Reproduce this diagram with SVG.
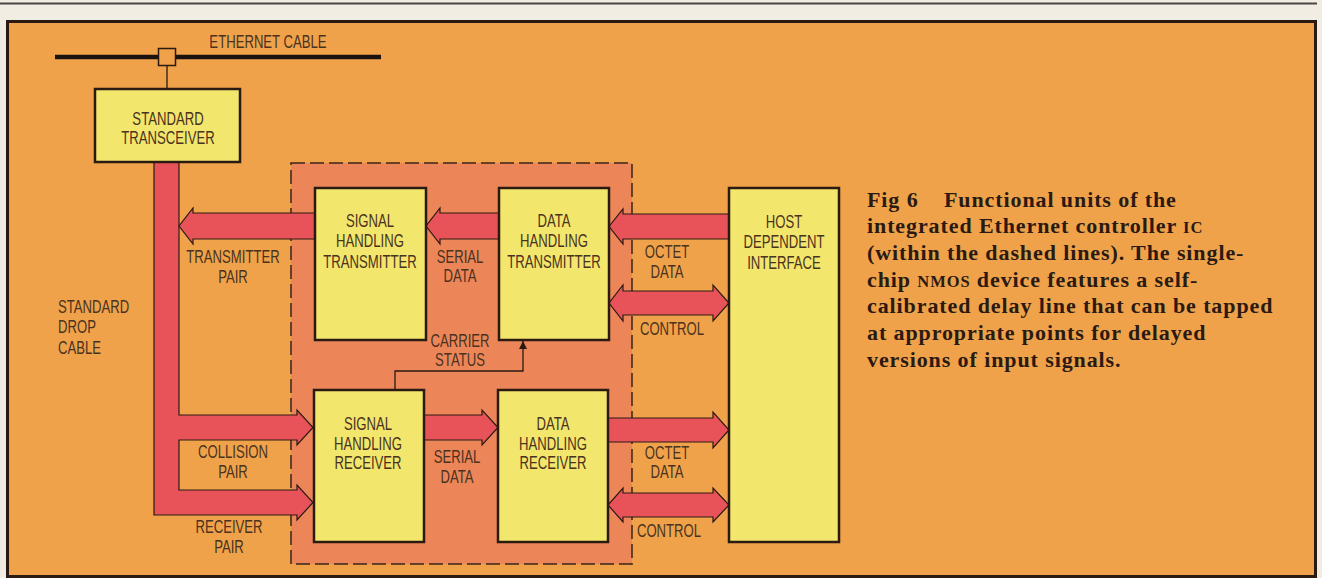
<svg xmlns="http://www.w3.org/2000/svg" width="1322" height="578" viewBox="0 0 1322 578">
<style>
.lbl{font-family:"Liberation Sans",Arial,sans-serif;font-size:18px;fill:#4a3220;text-anchor:middle}
.lft{text-anchor:start}
.box{fill:#f3e66c;stroke:#2a1a12;stroke-width:2.5}
.band{fill:#e8535a;stroke:#2a1a12;stroke-width:1.2;stroke-linejoin:miter}
.cap{font-family:"Liberation Serif","Times New Roman",serif;font-weight:bold;font-size:22px;letter-spacing:0.9px;fill:#2a1a12}
.sc{font-size:16.5px}
</style>
<defs>
<marker id="ah" viewBox="0 0 10 10" refX="10" refY="5" markerWidth="8" markerHeight="10" markerUnits="userSpaceOnUse" orient="auto">
<path d="M0,0 L10,5 L0,10 z" fill="#2a1a12"/>
</marker>
</defs>
<rect x="0" y="0" width="1322" height="578" fill="#f2ede2"/>
<line x1="0" y1="3.5" x2="1317" y2="3.5" stroke="#4a4442" stroke-width="2"/>
<rect x="7.5" y="21.5" width="1308" height="555" fill="#f0a24a" stroke="#2a1a12" stroke-width="3"/>
<rect id="ic-boundary" x="291" y="163" width="341" height="401" fill="#ec8658" stroke="#3a2418" stroke-width="1.5" stroke-dasharray="14 5"/>

<g id="connectors">
<line x1="55" y1="57" x2="381" y2="57" stroke="#1a1210" stroke-width="4.5"/>
<line x1="167" y1="66" x2="167" y2="90" stroke="#2a1a12" stroke-width="1.3"/>
<polygon class="band" points="154,161 154,515 297,515 297,520 313,502.5 297,485 297,490 179,490 179,440 297,440 297,445 313,427.5 297,410 297,415 179,415 179,161"/>
<polygon class="band" points="316,213 193,213 193,208 179,226 193,244 193,239 316,239"/>
<polygon class="band" points="499,213 440,213 440,208 426,226 440,244 440,239 499,239"/>
<polygon class="band" points="730,214 623,214 623,209 609,226.5 623,244 623,239 730,239"/>
<polygon class="band" points="623,291 713,291 713,285 729,303 713,321 713,315 623,315 623,321 609,303 623,285"/>
<polygon class="band" points="424,415 482,415 482,410 498,427.5 482,445 482,440 424,440"/>
<polygon class="band" points="607,418 713,418 713,412 729,430 713,448 713,442 607,442"/>
<polygon class="band" points="623,493 713,493 713,488 729,505 713,522 713,517 623,517 623,522 608,505 623,488"/>
<polyline points="395,390 395,371 523,371 523,341" fill="none" stroke="#2a1a12" stroke-width="1.3" marker-end="url(#ah)"/>
</g>

<g id="tap">
<rect x="158.5" y="48.5" width="17" height="17" fill="#f0a24a" stroke="#2a1a12" stroke-width="1.5"/>
</g>

<g id="standard-transceiver">
<rect class="box" x="95" y="89" width="145" height="73"/>
<text class="lbl" transform="translate(168,125) scale(0.73,1)">STANDARD</text>
<text class="lbl" transform="translate(168,144) scale(0.73,1)">TRANSCEIVER</text>
</g>
<g id="signal-handling-transmitter">
<rect class="box" x="315" y="188" width="111" height="152"/>
<text class="lbl" transform="translate(370,227) scale(0.73,1)">SIGNAL</text>
<text class="lbl" transform="translate(370,247) scale(0.73,1)">HANDLING</text>
<text class="lbl" transform="translate(370,268) scale(0.73,1)">TRANSMITTER</text>
</g>
<g id="data-handling-transmitter">
<rect class="box" x="499" y="188" width="110" height="152"/>
<text class="lbl" transform="translate(554,227) scale(0.73,1)">DATA</text>
<text class="lbl" transform="translate(554,247) scale(0.73,1)">HANDLING</text>
<text class="lbl" transform="translate(554,268) scale(0.73,1)">TRANSMITTER</text>
</g>
<g id="signal-handling-receiver">
<rect class="box" x="314" y="390" width="110" height="152"/>
<text class="lbl" transform="translate(368,430) scale(0.73,1)">SIGNAL</text>
<text class="lbl" transform="translate(368,450) scale(0.73,1)">HANDLING</text>
<text class="lbl" transform="translate(368,469) scale(0.73,1)">RECEIVER</text>
</g>
<g id="data-handling-receiver">
<rect class="box" x="498" y="390" width="110" height="152"/>
<text class="lbl" transform="translate(553,430) scale(0.73,1)">DATA</text>
<text class="lbl" transform="translate(553,450) scale(0.73,1)">HANDLING</text>
<text class="lbl" transform="translate(553,469) scale(0.73,1)">RECEIVER</text>
</g>
<g id="host-dependent-interface">
<rect class="box" x="729" y="188" width="110" height="354"/>
<text class="lbl" transform="translate(784,228) scale(0.73,1)">HOST</text>
<text class="lbl" transform="translate(784,248) scale(0.73,1)">DEPENDENT</text>
<text class="lbl" transform="translate(784,269) scale(0.73,1)">INTERFACE</text>
</g>

<g id="labels">
<text class="lbl" transform="translate(268,48) scale(0.73,1)">ETHERNET CABLE</text>
<text class="lbl lft" transform="translate(58,313) scale(0.73,1)">STANDARD</text>
<text class="lbl lft" transform="translate(58,333) scale(0.73,1)">DROP</text>
<text class="lbl lft" transform="translate(58,354) scale(0.73,1)">CABLE</text>
<text class="lbl" transform="translate(233,263) scale(0.73,1)">TRANSMITTER</text>
<text class="lbl" transform="translate(233,283) scale(0.73,1)">PAIR</text>
<text class="lbl" transform="translate(460,263) scale(0.73,1)">SERIAL</text>
<text class="lbl" transform="translate(460,282) scale(0.73,1)">DATA</text>
<text class="lbl" transform="translate(460,347) scale(0.73,1)">CARRIER</text>
<text class="lbl" transform="translate(460,366) scale(0.73,1)">STATUS</text>
<text class="lbl" transform="translate(233,458) scale(0.73,1)">COLLISION</text>
<text class="lbl" transform="translate(233,478) scale(0.73,1)">PAIR</text>
<text class="lbl" transform="translate(229,533) scale(0.73,1)">RECEIVER</text>
<text class="lbl" transform="translate(229,553) scale(0.73,1)">PAIR</text>
<text class="lbl" transform="translate(457,463) scale(0.73,1)">SERIAL</text>
<text class="lbl" transform="translate(457,483) scale(0.73,1)">DATA</text>
<text class="lbl" transform="translate(667,258) scale(0.73,1)">OCTET</text>
<text class="lbl" transform="translate(667,278) scale(0.73,1)">DATA</text>
<text class="lbl" transform="translate(672,335) scale(0.73,1)">CONTROL</text>
<text class="lbl" transform="translate(667,459) scale(0.73,1)">OCTET</text>
<text class="lbl" transform="translate(667,478) scale(0.73,1)">DATA</text>
<text class="lbl" transform="translate(669,537) scale(0.73,1)">CONTROL</text>
</g>

<g id="caption">
<text class="cap" x="867" y="207">Fig 6<tspan x="944">Functional units of the</tspan></text>
<text class="cap" x="867" y="233">integrated Ethernet controller <tspan class="sc">IC</tspan></text>
<text class="cap" x="867" y="260">(within the dashed lines). The single-</text>
<text class="cap" x="867" y="287">chip <tspan class="sc">NMOS</tspan> device features a self-</text>
<text class="cap" x="867" y="313">calibrated delay line that can be tapped</text>
<text class="cap" x="867" y="340">at appropriate points for delayed</text>
<text class="cap" x="867" y="367">versions of input signals.</text>
</g>
</svg>
